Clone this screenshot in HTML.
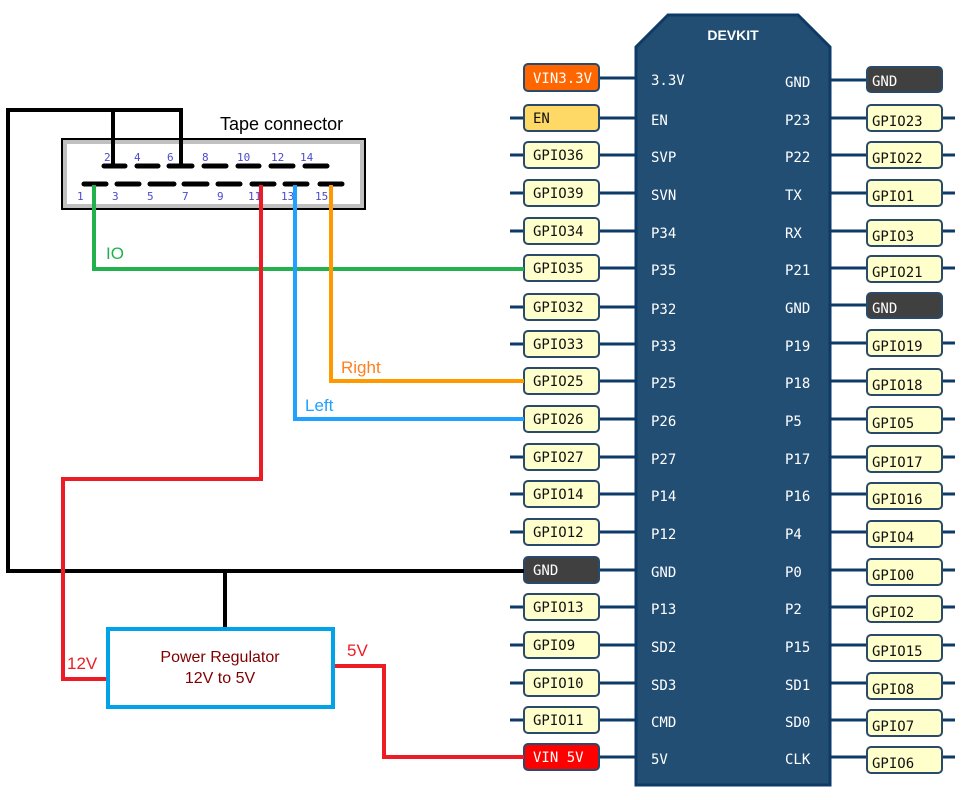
<!DOCTYPE html>
<html><head><meta charset="utf-8"><style>
html,body{margin:0;padding:0;background:#fff;}
svg{display:block;}
.m{font-family:"DejaVu Sans Mono","Liberation Mono",monospace;font-size:14px;}
.s{font-family:"Liberation Sans",sans-serif;}
</style></head><body>
<svg width="968" height="800" viewBox="0 0 968 800" xmlns="http://www.w3.org/2000/svg">
<polygon points="668,15 798,15 830,47 830,785 636,785 636,47" fill="#224e74" stroke="#0d3a66" stroke-width="3"/>
<text x="733" y="40" class="s" font-size="14" font-weight="bold" fill="#fff" text-anchor="middle">DEVKIT</text>

<g stroke="#0d3a66" stroke-width="3">
<line x1="599" y1="78" x2="636" y2="78"/><line x1="599" y1="118" x2="636" y2="118"/><line x1="599" y1="155" x2="636" y2="155"/><line x1="599" y1="193" x2="636" y2="193"/><line x1="599" y1="231" x2="636" y2="231"/><line x1="599" y1="268" x2="636" y2="268"/><line x1="599" y1="307" x2="636" y2="307"/><line x1="599" y1="344" x2="636" y2="344"/><line x1="599" y1="381" x2="636" y2="381"/><line x1="599" y1="419" x2="636" y2="419"/><line x1="599" y1="457" x2="636" y2="457"/><line x1="599" y1="494" x2="636" y2="494"/><line x1="599" y1="532" x2="636" y2="532"/><line x1="599" y1="570" x2="636" y2="570"/><line x1="599" y1="607" x2="636" y2="607"/><line x1="599" y1="645" x2="636" y2="645"/><line x1="599" y1="683" x2="636" y2="683"/><line x1="599" y1="720" x2="636" y2="720"/><line x1="599" y1="757" x2="636" y2="757"/>
<line x1="510" y1="118" x2="524" y2="118"/><line x1="510" y1="155" x2="524" y2="155"/><line x1="510" y1="193" x2="524" y2="193"/><line x1="510" y1="231" x2="524" y2="231"/><line x1="510" y1="307" x2="524" y2="307"/><line x1="510" y1="344" x2="524" y2="344"/><line x1="510" y1="457" x2="524" y2="457"/><line x1="510" y1="494" x2="524" y2="494"/><line x1="510" y1="532" x2="524" y2="532"/><line x1="510" y1="607" x2="524" y2="607"/><line x1="510" y1="645" x2="524" y2="645"/><line x1="510" y1="683" x2="524" y2="683"/><line x1="510" y1="720" x2="524" y2="720"/>
<line x1="830" y1="80" x2="867" y2="80"/><line x1="830" y1="118" x2="867" y2="118"/><line x1="830" y1="155" x2="867" y2="155"/><line x1="830" y1="193" x2="867" y2="193"/><line x1="830" y1="231" x2="867" y2="231"/><line x1="830" y1="268" x2="867" y2="268"/><line x1="830" y1="305" x2="867" y2="305"/><line x1="830" y1="343" x2="867" y2="343"/><line x1="830" y1="381" x2="867" y2="381"/><line x1="830" y1="419" x2="867" y2="419"/><line x1="830" y1="457" x2="867" y2="457"/><line x1="830" y1="494" x2="867" y2="494"/><line x1="830" y1="532" x2="867" y2="532"/><line x1="830" y1="570" x2="867" y2="570"/><line x1="830" y1="607" x2="867" y2="607"/><line x1="830" y1="645" x2="867" y2="645"/><line x1="830" y1="683" x2="867" y2="683"/><line x1="830" y1="720" x2="867" y2="720"/><line x1="830" y1="757" x2="867" y2="757"/>
<line x1="942" y1="118" x2="955" y2="118"/><line x1="942" y1="155" x2="955" y2="155"/><line x1="942" y1="193" x2="955" y2="193"/><line x1="942" y1="231" x2="955" y2="231"/><line x1="942" y1="268" x2="955" y2="268"/><line x1="942" y1="343" x2="955" y2="343"/><line x1="942" y1="381" x2="955" y2="381"/><line x1="942" y1="419" x2="955" y2="419"/><line x1="942" y1="457" x2="955" y2="457"/><line x1="942" y1="494" x2="955" y2="494"/><line x1="942" y1="532" x2="955" y2="532"/><line x1="942" y1="570" x2="955" y2="570"/><line x1="942" y1="607" x2="955" y2="607"/><line x1="942" y1="645" x2="955" y2="645"/><line x1="942" y1="683" x2="955" y2="683"/><line x1="942" y1="720" x2="955" y2="720"/><line x1="942" y1="757" x2="955" y2="757"/>
</g>

<g class="m" fill="#fff">
<text x="651" y="85">3.3V</text><text x="651" y="125">EN</text><text x="651" y="162">SVP</text><text x="651" y="200">SVN</text><text x="651" y="238">P34</text><text x="651" y="275">P35</text><text x="651" y="314">P32</text><text x="651" y="351">P33</text><text x="651" y="388">P25</text><text x="651" y="426">P26</text><text x="651" y="464">P27</text><text x="651" y="501">P14</text><text x="651" y="539">P12</text><text x="651" y="577">GND</text><text x="651" y="614">P13</text><text x="651" y="652">SD2</text><text x="651" y="690">SD3</text><text x="651" y="727">CMD</text><text x="651" y="764">5V</text>
<text x="785" y="87">GND</text><text x="785" y="125">P23</text><text x="785" y="162">P22</text><text x="785" y="200">TX</text><text x="785" y="238">RX</text><text x="785" y="275">P21</text><text x="785" y="313">GND</text><text x="785" y="351">P19</text><text x="785" y="388">P18</text><text x="785" y="426">P5</text><text x="785" y="464">P17</text><text x="785" y="501">P16</text><text x="785" y="539">P4</text><text x="785" y="577">P0</text><text x="785" y="614">P2</text><text x="785" y="652">P15</text><text x="785" y="690">SD1</text><text x="785" y="727">SD0</text><text x="785" y="764">CLK</text>
</g>

<g stroke="#2a4a6b" stroke-width="2">
<rect x="524" y="64" width="75" height="27" rx="4" fill="#ff6600"/>
<rect x="524" y="105" width="75" height="26" rx="4" fill="#ffd966"/>
<rect x="524" y="142" width="75" height="26" rx="4" fill="#ffffcc"/>
<rect x="524" y="180" width="75" height="26" rx="4" fill="#ffffcc"/>
<rect x="524" y="218" width="75" height="26" rx="4" fill="#ffffcc"/>
<rect x="524" y="255" width="75" height="26" rx="4" fill="#ffffcc"/>
<rect x="524" y="294" width="75" height="26" rx="4" fill="#ffffcc"/>
<rect x="524" y="331" width="75" height="26" rx="4" fill="#ffffcc"/>
<rect x="524" y="368" width="75" height="26" rx="4" fill="#ffffcc"/>
<rect x="524" y="406" width="75" height="26" rx="4" fill="#ffffcc"/>
<rect x="524" y="444" width="75" height="26" rx="4" fill="#ffffcc"/>
<rect x="524" y="481" width="75" height="26" rx="4" fill="#ffffcc"/>
<rect x="524" y="519" width="75" height="26" rx="4" fill="#ffffcc"/>
<rect x="524" y="557" width="75" height="26" rx="4" fill="#404040"/>
<rect x="524" y="594" width="75" height="26" rx="4" fill="#ffffcc"/>
<rect x="524" y="632" width="75" height="26" rx="4" fill="#ffffcc"/>
<rect x="524" y="670" width="75" height="26" rx="4" fill="#ffffcc"/>
<rect x="524" y="707" width="75" height="26" rx="4" fill="#ffffcc"/>
<rect x="524" y="744" width="75" height="26" rx="4" fill="#ff0000"/>
</g>
<g class="m" fill="#111">
<text x="533" y="83" fill="#fff">VIN3.3V</text><text x="533" y="123">EN</text><text x="533" y="160">GPIO36</text><text x="533" y="198">GPIO39</text><text x="533" y="236">GPIO34</text><text x="533" y="273">GPIO35</text><text x="533" y="312">GPIO32</text><text x="533" y="349">GPIO33</text><text x="533" y="386">GPIO25</text><text x="533" y="424">GPIO26</text><text x="533" y="462">GPIO27</text><text x="533" y="499">GPIO14</text><text x="533" y="537">GPIO12</text><text x="533" y="575" fill="#fff">GND</text><text x="533" y="612">GPIO13</text><text x="533" y="650">GPIO9</text><text x="533" y="688">GPIO10</text><text x="533" y="725">GPIO11</text><text x="533" y="762" fill="#fff">VIN 5V</text>
</g>

<g stroke="#2a4a6b" stroke-width="2">
<rect x="867" y="67" width="75" height="25" rx="4" fill="#404040"/>
<rect x="867" y="105" width="75" height="26" rx="4" fill="#ffffcc"/>
<rect x="867" y="142" width="75" height="26" rx="4" fill="#ffffcc"/>
<rect x="867" y="180" width="75" height="26" rx="4" fill="#ffffcc"/>
<rect x="867" y="220" width="75" height="26" rx="4" fill="#ffffcc"/>
<rect x="867" y="256" width="75" height="26" rx="4" fill="#ffffcc"/>
<rect x="867" y="293" width="75" height="25" rx="4" fill="#404040"/>
<rect x="867" y="330" width="75" height="26" rx="4" fill="#ffffcc"/>
<rect x="867" y="369" width="75" height="26" rx="4" fill="#ffffcc"/>
<rect x="867" y="407" width="75" height="26" rx="4" fill="#ffffcc"/>
<rect x="867" y="446" width="75" height="26" rx="4" fill="#ffffcc"/>
<rect x="867" y="483" width="75" height="26" rx="4" fill="#ffffcc"/>
<rect x="867" y="521" width="75" height="26" rx="4" fill="#ffffcc"/>
<rect x="867" y="559" width="75" height="26" rx="4" fill="#ffffcc"/>
<rect x="867" y="596" width="75" height="26" rx="4" fill="#ffffcc"/>
<rect x="867" y="635" width="75" height="26" rx="4" fill="#ffffcc"/>
<rect x="867" y="673" width="75" height="26" rx="4" fill="#ffffcc"/>
<rect x="867" y="710" width="75" height="26" rx="4" fill="#ffffcc"/>
<rect x="867" y="747" width="75" height="26" rx="4" fill="#ffffcc"/>
</g>
<g class="m" fill="#111">
<text x="872" y="86" fill="#fff">GND</text><text x="872" y="126">GPIO23</text><text x="872" y="163">GPIO22</text><text x="872" y="201">GPIO1</text><text x="872" y="241">GPIO3</text><text x="872" y="277">GPIO21</text><text x="872" y="313" fill="#fff">GND</text><text x="872" y="351">GPIO19</text><text x="872" y="390">GPIO18</text><text x="872" y="428">GPIO5</text><text x="872" y="467">GPIO17</text><text x="872" y="504">GPIO16</text><text x="872" y="542">GPIO4</text><text x="872" y="580">GPIO0</text><text x="872" y="617">GPIO2</text><text x="872" y="656">GPIO15</text><text x="872" y="694">GPIO8</text><text x="872" y="731">GPIO7</text><text x="872" y="768">GPIO6</text>
</g>

<text x="220" y="130" class="s" font-size="18" fill="#000">Tape connector</text>
<rect x="62" y="139" width="303" height="70" fill="#fff" stroke="#000" stroke-width="2"/>
<rect x="65" y="142" width="297" height="64" fill="#fff" stroke="#c0c0c0" stroke-width="4"/>
<g stroke="#000" stroke-width="5" stroke-linecap="round">
<line x1="104" y1="166" x2="125" y2="166"/><line x1="137" y1="166" x2="158" y2="166"/><line x1="169" y1="166" x2="192" y2="166"/><line x1="204" y1="166" x2="226" y2="166"/><line x1="238" y1="166" x2="259" y2="166"/><line x1="271" y1="166" x2="293" y2="166"/><line x1="305" y1="166" x2="327" y2="166"/>
<line x1="84" y1="184" x2="106" y2="184"/><line x1="117" y1="184" x2="139" y2="184"/><line x1="150" y1="184" x2="174" y2="184"/><line x1="184" y1="184" x2="207" y2="184"/><line x1="218" y1="184" x2="240" y2="184"/><line x1="252" y1="184" x2="274" y2="184"/><line x1="285" y1="184" x2="307" y2="184"/><line x1="320" y1="184" x2="342" y2="184"/>
</g>
<g font-family="DejaVu Sans Mono,monospace" font-size="11" fill="#4a4ad0">
<text x="104" y="161">2</text><text x="134" y="161">4</text><text x="167" y="161">6</text><text x="202" y="161">8</text><text x="237" y="161">10</text><text x="271" y="161">12</text><text x="300" y="161">14</text>
<text x="77" y="200">1</text><text x="112" y="200">3</text><text x="147" y="200">5</text><text x="182" y="200">7</text><text x="217" y="200">9</text><text x="248" y="200">11</text><text x="281" y="200">13</text><text x="315" y="200">15</text>
</g>

<g fill="none" stroke-width="4">
<polyline points="113,166 113,110 8,110 8,571 524,571" stroke="#000"/>
<polyline points="181,166 181,110 113,110" stroke="#000"/>
<line x1="225" y1="571" x2="225" y2="628" stroke="#000"/>
<polyline points="94,185 94,269 524,269" stroke="#22b14c"/>
<polyline points="261,185 261,479 63,479 63,679 107,679" stroke="#ed1c24"/>
<polyline points="295,185 295,419 524,419" stroke="#20a0ff"/>
<polyline points="331,185 331,381 524,381" stroke="#ff9900"/>
<polyline points="334,666 384,666 384,757 524,757" stroke="#ed1c24"/>
</g>
<text x="106" y="259" class="s" font-size="17" fill="#22b14c">IO</text>
<text x="341" y="373" class="s" font-size="17" fill="#ff8020">Right</text>
<text x="305" y="411" class="s" font-size="17" fill="#20a0ff">Left</text>
<text x="67" y="669" class="s" font-size="17" fill="#ed1c24">12V</text>
<text x="347" y="656" class="s" font-size="17" fill="#ed1c24">5V</text>

<rect x="108" y="629" width="225" height="78" fill="#fff" stroke="#00a2e8" stroke-width="4"/>
<text x="220" y="662" class="s" font-size="16" fill="#800000" text-anchor="middle">Power Regulator</text>
<text x="220" y="683" class="s" font-size="16" fill="#800000" text-anchor="middle">12V to 5V</text>
</svg>
</body></html>
